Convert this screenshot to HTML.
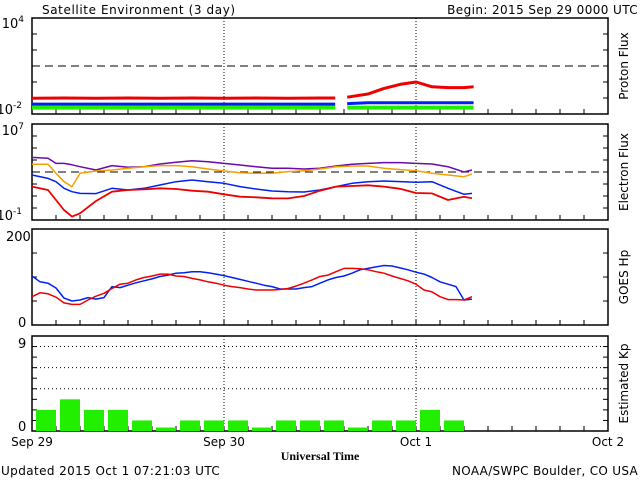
<!DOCTYPE html>
<html><head><meta charset="utf-8"><style>
html,body{margin:0;padding:0;background:#fff;}
svg{display:block;font-family:"DejaVu Sans","Liberation Sans",sans-serif;}
</style></head><body>
<svg id="c" width="640" height="480" viewBox="0 0 640 480">
<rect width="640" height="480" fill="#fff"/>
<text x="42" y="14" font-size="12" letter-spacing="0.6">Satellite Environment (3 day)</text>
<text x="638" y="14" font-size="12" text-anchor="end" letter-spacing="0.4">Begin:  2015 Sep 29 0000 UTC</text>
<text x="320" y="460" font-size="12" font-weight="bold" text-anchor="middle" font-family="Liberation Serif,serif">Universal Time</text>
<text x="1" y="475" font-size="12" letter-spacing="0.4">Updated 2015 Oct  1 07:21:03 UTC</text>
<text x="638" y="475" font-size="12" text-anchor="end" letter-spacing="0.3">NOAA/SWPC Boulder, CO USA</text>
<g id="g"></g>
</svg>
<script>
// ---- data ----
const xLabels = ["Sep 29","Sep 30","Oct 1","Oct 2"];
const kpValues = [2,3,2,2,1,0.33,1,1,1,0.33,1,1,1,0.33,1,1,2,1];
const hpHours = [];
for (let i=0;i<=55;i++) hpHours.push(i);
const hpBlue = [102,90,87,77,56,50,52,57,54,57,80,78,83,88,92,96,101,104,108,109,111,111,109,106,103,99,95,91,87,83,80,75,75,75,78,80,87,94,99,102,108,115,118,121,124,123,119,115,110,106,99,90,85,80,52,54];
const hpRed = [59,67,65,58,46,43,43,52,60,66,76,85,87,94,99,102,106,106,102,101,97,94,90,87,83,80,78,75,73,73,73,74,76,81,87,94,101,104,111,118,118,117,115,111,108,102,97,92,85,73,69,59,53,53,52,59];
const eHours = [0,2,3,4,5,6,8,10,12,14,16,18,20,22,24,26,28,30,32,34,36,38,40,42,44,46,48,50,52,54,55];
const ePurple = [4.22,4.14,3.72,3.72,3.6,3.44,3.17,3.53,3.4,3.44,3.67,3.81,3.94,3.86,3.72,3.58,3.44,3.31,3.31,3.25,3.31,3.5,3.64,3.72,3.78,3.78,3.72,3.67,3.44,3.0,3.17];
const eOrange = [3.64,3.64,2.89,2.19,1.78,2.89,3.08,3.17,3.31,3.44,3.53,3.53,3.44,3.25,3.08,2.94,2.89,2.89,3.03,3.1,3.25,3.44,3.5,3.5,3.31,3.2,3.11,2.89,2.75,2.61,2.83];
const eBlue = [2.75,2.47,2.19,1.64,1.36,1.22,1.2,1.64,1.5,1.64,1.92,2.19,2.33,2.19,2.06,1.78,1.58,1.42,1.36,1.33,1.5,1.78,2.06,2.19,2.25,2.2,2.14,2.19,1.64,1.14,1.22];
const eRed = [1.78,1.5,0.67,-0.17,-0.72,-0.44,0.58,1.36,1.5,1.55,1.64,1.58,1.44,1.36,1.14,0.94,0.89,0.81,0.8,1.0,1.44,1.78,1.83,1.89,1.78,1.6,1.25,1.22,0.67,0.94,0.81];
const pHours = [0,4,8,12,16,20,24,28,32,36,37.9,null,39.4,42,44,46,48,50,52,54,55.2];
const pRed = [-1.02,-1.0,-1.02,-1.0,-1.02,-1.0,-1.02,-1.0,-1.02,-1.0,-1.0,null,-0.95,-0.75,-0.4,-0.15,0.0,-0.3,-0.35,-0.35,-0.3];
const pBlue = [-1.38,-1.38,-1.38,-1.38,-1.38,-1.38,-1.38,-1.38,-1.38,-1.38,-1.38,null,-1.35,-1.3,-1.3,-1.3,-1.3,-1.3,-1.3,-1.3,-1.3];
const pGreen = [-1.6,-1.6,-1.6,-1.6,-1.6,-1.6,-1.6,-1.6,-1.6,-1.6,-1.6,null,-1.6,-1.6,-1.6,-1.6,-1.6,-1.6,-1.6,-1.6,-1.6];

// ---- layout ----
const NS="http://www.w3.org/2000/svg";
const G=document.getElementById('g');
const L=32,R=608;
const X=h=>L+h*(R-L)/72;
const P={p:[18,114],e:[124,220],h:[229,325],k:[336,431]};
const yP=v=>P.p[1]-(v+2)*(P.p[1]-P.p[0])/6;
const yE=v=>P.e[1]-(v+1)*(P.e[1]-P.e[0])/8;
const yH=v=>P.h[1]-v*(P.h[1]-P.h[0])/200;
const yK=v=>P.k[1]-v*(P.k[1]-P.k[0])/9;
function el(t,a,parent){const e=document.createElementNS(NS,t);for(const k in a)e.setAttribute(k,a[k]);(parent||G).appendChild(e);return e;}
function txt(x,y,s,a){const e=el('text',Object.assign({x:x,y:y,'font-size':12},a||{}));e.textContent=s;return e;}
function pow(xRight,y,exp,name){
  const t=el('text',{x:xRight,y:y,'font-size':13,'text-anchor':'end'});
  
  
  const a=el('tspan',{},t);a.textContent='10';
  const b=el('tspan',{dy:-6,'font-size':9},t);b.textContent=exp;
}

function panel(key,name,label,ticks){
  const [t,b]=P[key];
  const f=el('rect',{x:L,y:t,width:R-L,height:b-t,fill:'none',stroke:'#000','stroke-width':1.5});
  
  
  for(let i=1;i<24;i++){el('line',{x1:X(i*3),x2:X(i*3),y1:b,y2:b-5,stroke:'#000'});}
  [24,48].forEach(h=>el('line',{x1:X(h),x2:X(h),y1:t,y2:b,stroke:'#000','stroke-dasharray':'1,2'}));
  ticks.forEach(y=>{el('line',{x1:L,x2:L+5,y1:y,y2:y,stroke:'#000'});el('line',{x1:R,x2:R-5,y1:y,y2:y,stroke:'#000'});});
  const lb=txt(628,(t+b)/2,label,{transform:`rotate(-90 628 ${(t+b)/2})`,'text-anchor':'middle'});
  
  
}
function line(hours,vals,yf,color,w,name){
  let d='',pen=false;
  for(let i=0;i<hours.length;i++){
    if(hours[i]===null||vals[i]===null){pen=false;continue;}
    d+=(pen?'L':'M')+X(hours[i]).toFixed(1)+','+yf(vals[i]).toFixed(1);pen=true;
  }
  const p=el('path',{d:d,fill:'none',stroke:color,'stroke-width':w,'stroke-linejoin':'round'});
  
  
}

// proton
panel('p','proton-flux','Proton Flux',[1,2,3,4,5].map(i=>P.p[0]+i*16));
el('line',{x1:L,x2:R,y1:yP(1),y2:yP(1),stroke:'#000','stroke-dasharray':'8,5'});
line(pHours,pGreen,yP,'#22ee00',4,'proton-green-series');
line(pHours,pBlue,yP,'#0022ee',3,'proton-blue-series');
line(pHours,pRed,yP,'#ee0000',3,'proton-red-series');
pow(24,28,'4','proton-y-max');
pow(22,114,'-2','proton-y-min');

// electron
panel('e','electron-flux','Electron Flux',[1,2,3,4,5,6,7].map(i=>P.e[0]+i*12));
el('line',{x1:L,x2:R,y1:yE(3),y2:yE(3),stroke:'#000','stroke-dasharray':'8,5'});
line(eHours,ePurple,yE,'#6a0aaa',1.5,'electron-purple-series');
line(eHours,eOrange,yE,'#f5a000',1.5,'electron-orange-series');
line(eHours,eBlue,yE,'#0022ee',1.5,'electron-blue-series');
line(eHours,eRed,yE,'#ee0000',1.8,'electron-red-series');
pow(24,135,'7','electron-y-max');
pow(22,220,'-1','electron-y-min');

// hp
panel('h','goes-hp','GOES Hp',[50,100,150].map(yH));
line(hpHours,hpBlue,yH,'#0022ee',1.5,'hp-blue-series');
line(hpHours,hpRed,yH,'#ee0000',1.5,'hp-red-series');
txt(6,241,'200',{'font-size':13});txt(18,327,'0',{'font-size':13});

// kp
panel('k','estimated-kp','Estimated Kp',[1,2,3,4,5,6,7,8].map(yK));
[4,6,8].forEach(v=>el('line',{x1:L,x2:R,y1:yK(v),y2:yK(v),stroke:'#000','stroke-dasharray':'1,3'}));
kpValues.forEach((v,i)=>{
  const r=el('rect',{x:X(i*3)+4,y:yK(v),width:X(3)-X(0)-4,height:P.k[1]-yK(v),fill:'#22ee00'});
  
  
});
txt(18,348,'9',{'font-size':13});txt(18,431,'0',{'font-size':13});

xLabels.forEach((s,i)=>{
  const t=txt(X(i*24),446,s,{'text-anchor':'middle'});
  
  
});
</script>
</body></html>
